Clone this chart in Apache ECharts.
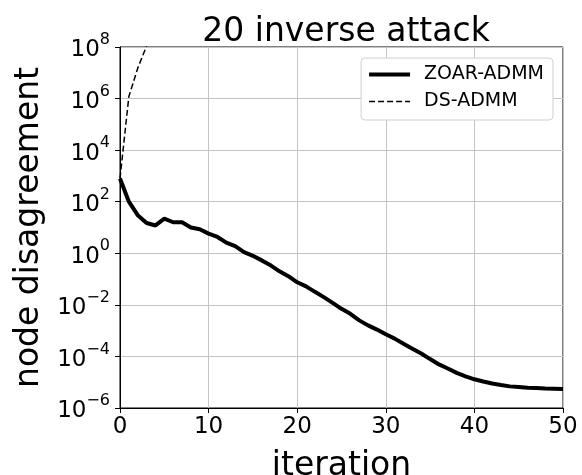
<!DOCTYPE html>
<html>
<head>
<meta charset="utf-8">
<script src="https://cdn.jsdelivr.net/npm/echarts@6/dist/echarts.min.js"></script>
<style>
  html, body { margin: 0; padding: 0; background: #fff; }
  #chart { width: 582px; height: 475px; }
</style>
</head>
<body>
<div id="chart"></div>
<script>
// iterations 0..50
const iterations = [0, 1, 2, 3, 4, 5, 6, 7, 8, 9, 10, 11, 12, 13, 14, 15, 16, 17, 18, 19, 20,
  21, 22, 23, 24, 25, 26, 27, 28, 29, 30, 31, 32, 33, 34, 35, 36, 37, 38, 39, 40,
  41, 42, 43, 44, 45, 46, 47, 48, 49, 50];
const zoarAdmm = [800, 100, 30, 15, 12, 22, 16, 16, 10, 8.5, 5.8, 4.3, 2.6, 1.9, 1.1, 0.8,
  0.53, 0.34, 0.2, 0.13, 0.075, 0.052, 0.032, 0.02, 0.012, 0.007, 0.0045, 0.0025, 0.0016,
  0.0011, 7.2e-4, 4.9e-4, 3.1e-4, 2e-4, 1.3e-4, 7.9e-5, 4.9e-5, 3.4e-5, 2.3e-5, 1.7e-5,
  1.3e-5, 1.07e-5, 8.9e-6, 7.8e-6, 6.9e-6, 6.5e-6, 6.1e-6, 5.9e-6, 5.7e-6, 5.6e-6, 5.5e-6];
const dsIterations = [0, 1, 2, 3];
const dsAdmm = [800, 1.2e6, 1.5e7, 1.1e8];
const xTicks = [0, 10, 20, 30, 40, 50];
const yExponents = [-6, -4, -2, 0, 2, 4, 6, 8];

const font = 'DejaVu Sans';
const chart = echarts.init(document.getElementById('chart'));

const pairs = (xs, ys) => xs.map((x, i) => [x, ys[i]]);

chart.setOption({
  animation: false,
  title: {
    text: '20 inverse attack',
    left: 341, textAlign: 'center', top: 11,
    textStyle: { fontFamily: font, fontSize: 33, fontWeight: 'normal', color: '#000' }
  },
  grid: {
    left: 120, right: 19, top: 47, bottom: 67,
    outerBoundsMode: 'none', containLabel: false,
    show: true, borderColor: '#000', borderWidth: 1
  },
  legend: {
    orient: 'vertical', right: 29, top: 58,
    backgroundColor: '#fff', borderColor: '#d0d0d0', borderWidth: 1, borderRadius: 4,
    padding: [7, 9, 9, 6],
    itemWidth: 41, itemHeight: 20, itemGap: 8,
    itemStyle: { opacity: 0 },
    textStyle: { fontFamily: font, fontSize: 19, color: '#000', padding: [0, 0, 0, 9] },
    data: [
      { name: 'ZOAR-ADMM', lineStyle: { width: 4, color: '#000' } },
      { name: 'DS-ADMM', lineStyle: { width: 1.5, color: '#000', type: [6, 3] } }
    ]
  },
  xAxis: {
    type: 'value', min: xTicks[0], max: xTicks[xTicks.length - 1], interval: 10,
    name: 'iteration', nameLocation: 'middle', nameGap: 42,
    nameTextStyle: { fontFamily: font, fontSize: 33, color: '#000' },
    axisLine: { lineStyle: { color: '#000', width: 1 } },
    axisTick: { show: true, length: 5, lineStyle: { color: '#000' } },
    axisLabel: { fontFamily: font, fontSize: 23, color: '#000', margin: 8 },
    splitLine: { show: true, lineStyle: { color: '#c4c4c4', width: 1 } }
  },
  yAxis: {
    type: 'log', logBase: 100,
    min: Math.pow(10, yExponents[0]), max: Math.pow(10, yExponents[yExponents.length - 1]),
    splitNumber: 7,
    name: 'node disagreement', nameLocation: 'middle', nameGap: 72,
    nameTextStyle: { fontFamily: font, fontSize: 33, color: '#000' },
    axisLine: { show: true, lineStyle: { color: '#000', width: 1 } },
    axisTick: { show: true, length: 5, lineStyle: { color: '#000' } },
    minorTick: { show: false },
    axisLabel: {
      margin: 10,
      formatter: function (v) {
        const e = Math.round(Math.log10(v));
        return '{b|10}{s|' + (e < 0 ? '\u2212' + (-e) : e) + '}';
      },
      rich: {
        b: { fontFamily: font, fontSize: 23, color: '#000', lineHeight: 30, verticalAlign: 'bottom' },
        s: { fontFamily: font, fontSize: 16, color: '#000', lineHeight: 30, verticalAlign: 'top' }
      }
    },
    splitLine: { show: true, lineStyle: { color: '#c4c4c4', width: 1 } }
  },
  series: [
    {
      name: 'ZOAR-ADMM', type: 'line', symbol: 'none', showSymbol: false,
      data: pairs(iterations, zoarAdmm),
      lineStyle: { color: '#000', width: 4 }, itemStyle: { color: '#000' }, z: 3
    },
    {
      name: 'DS-ADMM', type: 'line', symbol: 'none', showSymbol: false, clip: true,
      data: pairs(dsIterations, dsAdmm),
      lineStyle: { color: '#000', width: 1.5, type: [6, 3] }, itemStyle: { color: '#000' }, z: 2
    }
  ]
});
</script>
</body>
</html>
